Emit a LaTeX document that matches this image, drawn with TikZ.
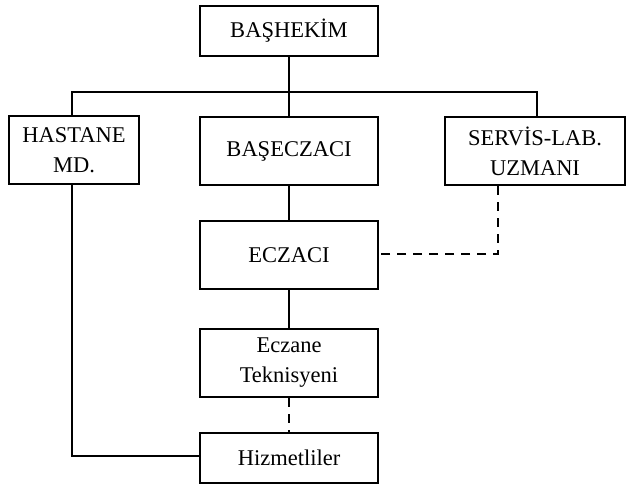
\documentclass[tikz,border=0pt]{standalone}
\usepackage{fontspec}
\setmainfont{Liberation Serif}
\begin{document}
\begin{tikzpicture}[x=1pt,y=-1pt,
  box/.style={draw,line width=2pt,align=center,inner sep=0pt,
    font=\fontsize{22.5}{30}\selectfont},
  link/.style={line width=2pt},
  dlink/.style={line width=2pt,dash pattern=on 9pt off 7pt}]
\useasboundingbox (0,0) rectangle (629,485);

% boxes
\node[box,minimum width=178pt,minimum height=50pt] (bas) at (289,31) {BAŞHEKİM};
\node[box,minimum width=130pt,minimum height=68pt] (hast) at (74,150) {HASTANE\\MD.};
\node[box,minimum width=178pt,minimum height=68pt] (basecz) at (289,151) {BAŞECZACI};
\node[box,minimum width=180pt,minimum height=68pt] (servis) at (535,151) {SERVİS-LAB.\\UZMANI};
\node[box,minimum width=178pt,minimum height=68pt] (ecz) at (289,255) {ECZACI};
\node[box,minimum width=178pt,minimum height=68pt] (tek) at (289,363) {Eczane\\Teknisyeni};
\node[box,minimum width=178pt,minimum height=50pt] (hiz) at (289,458) {Hizmetliler};

% junction points
\coordinate (barL) at (72,92);
\coordinate (barR) at (537,92);
\coordinate (hizL) at (72,456);
\coordinate (dc) at (498,254);

% solid connectors
\draw[link] (bas) -- (basecz);
\draw[link] (basecz) -- (ecz);
\draw[link] (ecz) -- (tek);
\draw[link] (hast.north -| barL) -- (barL) -- (barR) -- (servis.north -| barR);
\draw[link] (hast.south -| hizL) -- (hizL) -- (hiz.west |- hizL);

% dashed connectors
\draw[dlink] (tek) -- (hiz);
\draw[dlink] (servis.south -| dc) -- (dc) -- (ecz.east |- dc);
\end{tikzpicture}
\end{document}
